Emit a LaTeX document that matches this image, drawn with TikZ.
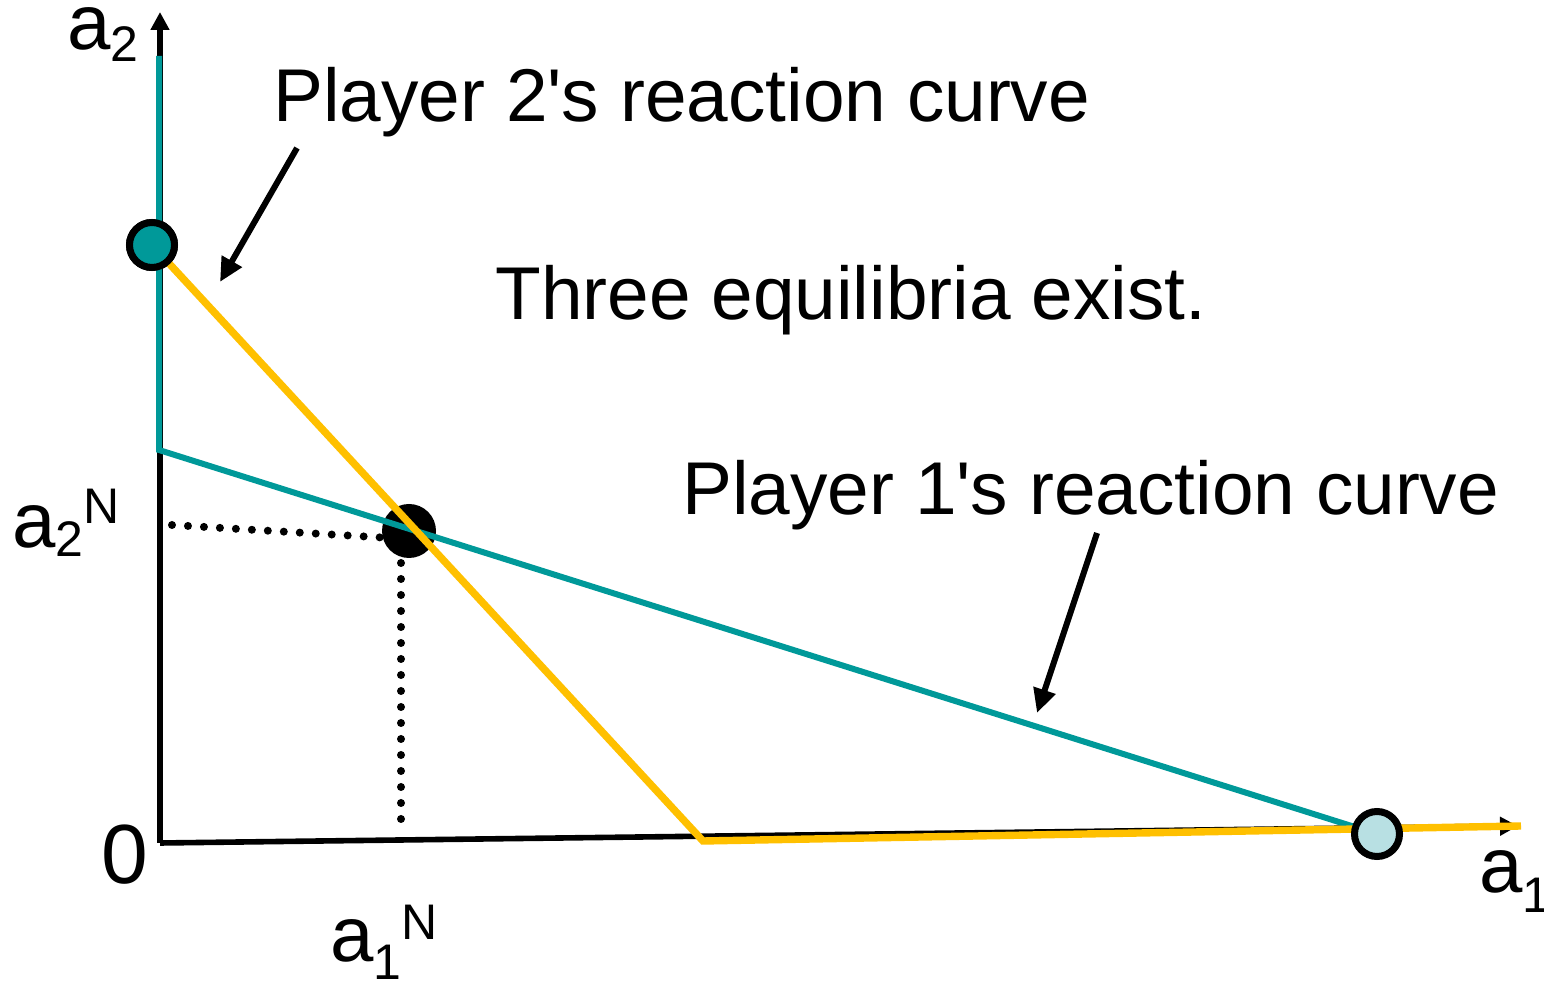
\documentclass[tikz,border=0pt]{standalone}
\usepackage{fontspec}
\setmainfont{Liberation Sans}
\usetikzlibrary{arrows.meta}
\definecolor{tealc}{RGB}{0,153,153}
\definecolor{goldc}{RGB}{255,192,0}
\definecolor{lightc}{RGB}{184,224,227}
\newcommand\labfont{\fontsize{39}{40}\selectfont}
\newcommand\smfont{\fontsize{25}{25}\selectfont}
\newcommand\txtfont{\fontsize{37.4}{40}\selectfont}
\begin{document}
\begin{tikzpicture}[x=0.5pt,y=-0.5pt,
  axis/.style={line width=2.8pt,black,line cap=butt},
  tealline/.style={line width=3pt,tealc,line join=miter},
  goldline/.style={line width=3.7pt,goldc,line join=miter},
  eqc/.style={circle,draw=black,line width=3.5pt,minimum size=22.5pt,inner sep=0pt},
  dotline/.style={line width=4pt,line cap=round,dash pattern=on 0pt off 8pt},
  callout/.style={line width=3pt,-{Triangle[length=12pt,width=11pt]}},
  txt/.style={anchor=base west,inner sep=0pt,font=\txtfont},
  lab/.style={anchor=base west,inner sep=0pt,font=\labfont}]
\useasboundingbox (0,0) rectangle (1544,983);
% coordinates
\coordinate (O) at (160,843);
\coordinate (ytip) at (160,12);
\coordinate (xtip) at (1518,826);
\coordinate (tv) at (159,56);
\coordinate (tk) at (159,450);
\coordinate (yk) at (703,841);
\coordinate (yend) at (1521,826);
\coordinate (dh1) at (172,525);
\coordinate (dh2) at (390,538);
\coordinate (dv1) at (401,547);
\coordinate (dv2) at (401,822);
\coordinate (P2a) at (297,148);
\coordinate (P2b) at (220,282);
\coordinate (P1a) at (1097,533);
\coordinate (P1b) at (1037,713);
% Nash equilibrium (black)
\node[circle,fill=black,minimum size=27pt,inner sep=0pt] (E2) at (409,531) {};
% dotted guides
\draw[dotline] (dh1) -- (dh2);
\draw[dotline] (dv1) -- (dv2);
% axes
\draw[axis,-{Triangle[length=9pt,width=9pt]}] (O) -- (ytip);
\draw[axis,-{Triangle[length=9pt,width=9pt]}] (O) -- (xtip);
% reaction curves
\node[eqc,fill=tealc] (E1) at (152,245) {};
\draw[tealline] (tv) -- (tk) -- (1377,834);
\draw[goldline] (E1.center) -- (yk) -- (yend);
\node[eqc,fill=tealc] (E1b) at (152,245) {};
\node[eqc,fill=lightc] (E3) at (1377,834) {};
% callouts
\draw[callout] (P2a) -- (P2b);
\draw[callout] (P1a) -- (P1b);
% texts
\node[txt] (t2) at (273,122) {Player 2\textquotesingle s reaction curve};
\node[txt] (t3) at (495,320) {Three equilibria exist.};
\node[txt] (t1) at (682,515) {Player 1\textquotesingle s reaction curve};
% axis labels
\node[lab] (la2) at (67,50) {a\raisebox{-6pt}{\smfont 2}};
\node[lab] (la2N) at (12,548) {a\raisebox{-4.5pt}{\smfont 2}\raisebox{12pt}{\smfont N}};
\node[anchor=base west,inner sep=0pt,font=\fontsize{42}{44}\selectfont] (l0) at (101,884) {0};
\node[lab] (la1) at (1479,893) {a\raisebox{-9.5pt}{\smfont 1}};
\node[lab] (la1N) at (330,962) {a\raisebox{-9pt}{\smfont 1}\raisebox{11pt}{\smfont N}};
\end{tikzpicture}
\end{document}
